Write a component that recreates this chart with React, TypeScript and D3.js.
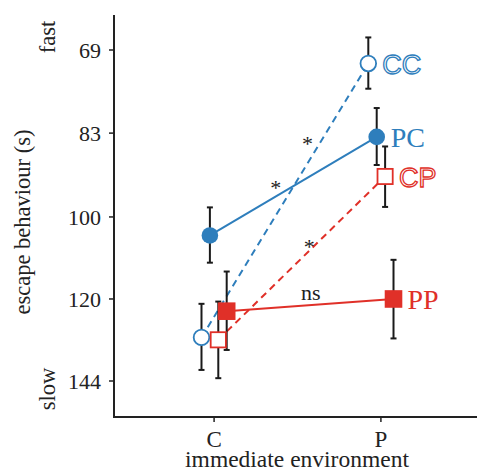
import React from "react";
import * as d3 from "d3";

const environments = ["C", "P"];
const groups = ["CC", "PC", "CP", "PP"];
const means: Record<string, number[]> = {
  CC: [130.7, 71.1],
  PC: [104.2, 83.7],
  CP: [131.4, 91.4],
  PP: [123.3, 120.0],
};
const lower: Record<string, number[]> = {
  CC: [121.3, 67.1],
  PC: [97.9, 78.5],
  CP: [120.7, 85.5],
  PP: [112.9, 110.0],
};
const upper: Record<string, number[]> = {
  CC: [140.5, 75.2],
  PC: [110.7, 89.1],
  CP: [143.1, 97.8],
  PP: [134.4, 131.0],
};
const yTicks = [69, 83, 100, 120, 144];
const annotations = [
  { text: "*", frac: 0.37, value: 93.1 },
  { text: "*", frac: 0.56, value: 84.4 },
  { text: "*", frac: 0.57, value: 106.3 },
  { text: "ns", frac: 0.58, value: 118.5 },
];

const BLUE = "#2e7ebc";
const RED = "#e03028";
const style: Record<string, { color: string; filled: boolean; shape: string; dashed: boolean; serif: boolean }> = {
  CC: { color: BLUE, filled: false, shape: "circle", dashed: true, serif: false },
  PC: { color: BLUE, filled: true, shape: "circle", dashed: false, serif: true },
  CP: { color: RED, filled: false, shape: "square", dashed: true, serif: false },
  PP: { color: RED, filled: true, shape: "square", dashed: false, serif: true },
};

const SERIF = "'Liberation Serif', 'Times New Roman', serif";
const SANS = "'Liberation Sans', Arial, sans-serif";
const AX = "#222";

export default function App() {
  const left = 114, right = 481, top = 15, bottom = 417;
  const x = d3.scalePoint<string>().domain(environments).range([left, right]).padding(0.6);
  const dodge = d3.scalePoint<string>().domain(groups).range([-12.6, 12.6]);
  const y = d3.scaleLog().domain([69, 144]).range([50, 381]);
  const px = (g: string, i: number) => (x(environments[i]) as number) + (dodge(g) as number);
  const line = d3.line<[number, number]>().x((d) => d[0]).y((d) => d[1]);
  const xC = x("C") as number, xP = x("P") as number;

  return (
    <svg width={477} height={470} style={{ position: "absolute", left: 0, top: 0, background: "#fff" }}>
      {/* axes */}
      <line x1={left} x2={left} y1={top} y2={bottom + 1} stroke={AX} strokeWidth={2} />
      <line x1={left - 1} x2={477} y1={bottom} y2={bottom} stroke={AX} strokeWidth={2} />
      {yTicks.map((t) => (
        <g key={t}>
          <line x1={left - 5} x2={left} y1={y(t)} y2={y(t)} stroke={AX} strokeWidth={1.5} />
          <text x={left - 13} y={y(t)} dy="0.35em" textAnchor="end" fontFamily={SERIF} fontSize={22} fill="#222">
            {t}
          </text>
        </g>
      ))}
      {environments.map((e) => (
        <g key={e}>
          <line x1={x(e)} x2={x(e)} y1={bottom} y2={bottom + 5} stroke={AX} strokeWidth={1.5} />
          <text x={x(e)} y={447} textAnchor="middle" fontFamily={SERIF} fontSize={23} fill="#222">
            {e}
          </text>
        </g>
      ))}
      <text x={297} y={466.5} textAnchor="middle" fontFamily={SERIF} fontSize={23.5} fill="#222">
        immediate environment
      </text>
      <text transform="translate(30,222) rotate(-90)" textAnchor="middle" fontFamily={SERIF} fontSize={22.5} fill="#222">
        escape behaviour (s)
      </text>
      <text transform="translate(55,37) rotate(-90)" textAnchor="middle" fontFamily={SERIF} fontSize={22.5} fill="#222">
        fast
      </text>
      <text transform="translate(55,389) rotate(-90)" textAnchor="middle" fontFamily={SERIF} fontSize={22.5} fill="#222">
        slow
      </text>

      {/* lines */}
      {groups.map((g) => (
        <path
          key={g}
          d={line(means[g].map((v, i) => [px(g, i), y(v)] as [number, number])) as string}
          fill="none"
          stroke={style[g].color}
          strokeWidth={2}
          strokeDasharray={style[g].dashed ? "7,5" : undefined}
        />
      ))}

      {/* annotations */}
      {annotations.map((a, i) => (
        <text
          key={i}
          x={xC + a.frac * (xP - xC)}
          y={y(a.value)}
          dy={a.text === "*" ? "0.45em" : "0.3em"}
          textAnchor="middle"
          fontFamily={SERIF}
          fontSize={22}
          fill="#222"
        >
          {a.text}
        </text>
      ))}

      {/* error bars */}
      {groups.map((g) =>
        means[g].map((_, i) => {
          const cx = px(g, i);
          return (
            <g key={g + i} stroke="#1a1a1a" strokeWidth={2}>
              <line x1={cx} x2={cx} y1={y(lower[g][i])} y2={y(upper[g][i])} />
              <line x1={cx - 3} x2={cx + 3} y1={y(lower[g][i])} y2={y(lower[g][i])} />
              <line x1={cx - 3} x2={cx + 3} y1={y(upper[g][i])} y2={y(upper[g][i])} />
            </g>
          );
        })
      )}

      {/* markers */}
      {groups.map((g) =>
        means[g].map((v, i) => {
          const s = style[g];
          const cx = px(g, i);
          const cy = y(v);
          if (s.shape === "circle") {
            return s.filled ? (
              <circle key={g + i} cx={cx} cy={cy} r={8.3} fill={s.color} />
            ) : (
              <circle key={g + i} cx={cx} cy={cy} r={7.8} fill="#fff" stroke={s.color} strokeWidth={1.8} />
            );
          }
          return s.filled ? (
            <rect key={g + i} x={cx - 8.8} y={cy - 8.8} width={17.6} height={17.6} fill={s.color} />
          ) : (
            <rect key={g + i} x={cx - 7.6} y={cy - 7.6} width={15.2} height={15.2} fill="#fff" stroke={s.color} strokeWidth={1.8} />
          );
        })
      )}

      {/* end labels */}
      {groups.map((g) => {
        const s = style[g];
        return (
          <text
            key={g}
            x={px(g, 1) + 14}
            y={y(means[g][1])}
            dy={s.serif ? "0.36em" : "0.38em"}
            fontFamily={s.serif ? SERIF : SANS}
            fontSize={s.serif ? 28 : 27}
            fill={s.filled ? s.color : "#fff"}
            stroke={s.filled ? "none" : s.color}
            strokeWidth={s.filled ? 0 : 1.3}
          >
            {g}
          </text>
        );
      })}
    </svg>
  );
}
